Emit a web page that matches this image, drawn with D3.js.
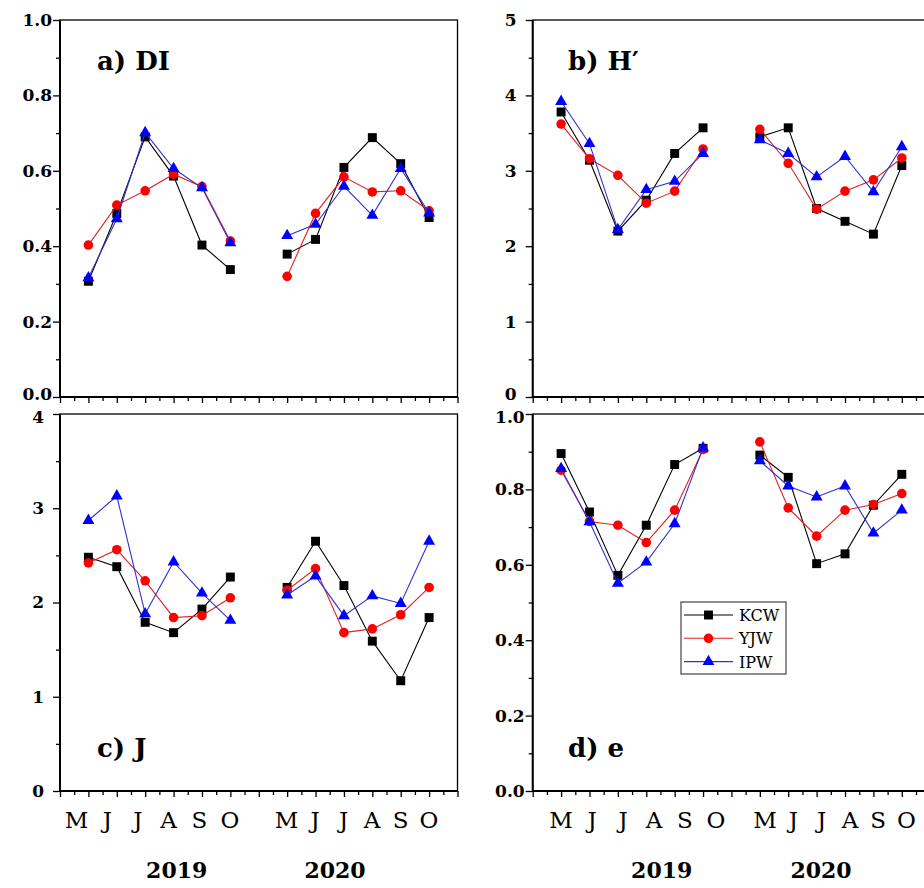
<!DOCTYPE html>
<meta charset="utf-8">
<style>
  body { margin: 0; background: #fff; }
  .axis line { stroke: #000; stroke-width: 1.3px; }
  .axis path { display: none; }
  .axis text { font-family: "DejaVu Serif", serif; font-weight: bold; font-size: 17px; fill: #000; }
</style>
<body>
<script src="https://d3js.org/d3.v7.min.js"></script>
<script>

var months = ["M", "J", "J", "A", "S", "O"];
var years = ["2019", "2020"];
var seriesNames = ["KCW", "YJW", "IPW"];

// values: May..Oct 2019 then May..Oct 2020
var diKCW = [0.307, 0.487, 0.690, 0.586, 0.403, 0.338, 0.379, 0.418, 0.609, 0.688, 0.619, 0.476];
var diYJW = [0.403, 0.509, 0.547, 0.591, 0.558, 0.414, 0.320, 0.487, 0.584, 0.544, 0.547, 0.494];
var diIPW = [0.316, 0.473, 0.701, 0.606, 0.555, 0.409, 0.428, 0.458, 0.559, 0.482, 0.606, 0.488];

var hKCW = [3.78, 3.14, 2.20, 2.61, 3.23, 3.57, 3.45, 3.57, 2.50, 2.33, 2.16, 3.07];
var hYJW = [3.62, 3.16, 2.94, 2.57, 2.73, 3.29, 3.55, 3.10, 2.49, 2.73, 2.88, 3.17];
var hIPW = [3.92, 3.36, 2.22, 2.75, 2.86, 3.23, 3.41, 3.23, 2.92, 3.19, 2.72, 3.32];

var jKCW = [2.48, 2.38, 1.79, 1.68, 1.93, 2.27, 2.16, 2.65, 2.18, 1.59, 1.17, 1.84];
var jYJW = [2.42, 2.56, 2.23, 1.84, 1.86, 2.05, 2.13, 2.36, 1.68, 1.72, 1.87, 2.16];
var jIPW = [2.87, 3.13, 1.88, 2.43, 2.10, 1.81, 2.08, 2.28, 1.86, 2.07, 1.99, 2.65];

var eKCW = [0.895, 0.740, 0.572, 0.705, 0.866, 0.909, 0.891, 0.832, 0.603, 0.629, 0.758, 0.840];
var eYJW = [0.851, 0.715, 0.705, 0.659, 0.745, 0.906, 0.926, 0.751, 0.676, 0.745, 0.760, 0.789];
var eIPW = [0.855, 0.714, 0.551, 0.607, 0.709, 0.910, 0.876, 0.809, 0.780, 0.809, 0.684, 0.745];

var colors = {KCW: "#000000", YJW: "#ff0000", IPW: "#0000ff"};
var lineColors = {KCW: "#000000", YJW: "#e02020", IPW: "#3030d0"};
var symbols = {KCW: d3.symbolSquare, YJW: d3.symbolCircle, IPW: d3.symbolTriangle};
var symSize = {KCW: 80, YJW: 72, IPW: 62};

var pw = 397.5, ph = 377;

var panels = [
  {label: "a) DI", left: 60, top: 20, max: 1, major: 0.2, minor: 0.1, fmt: ".1f", pad: 1,
   series: {KCW: diKCW, YJW: diYJW, IPW: diIPW}, lx: 97, ly: 70, months: null, row: 0},
  {label: "b) H\u2032", left: 532.7, top: 20, max: 5, major: 1, minor: 0.5, fmt: "d", pad: 9,
   series: {KCW: hKCW, YJW: hYJW, IPW: hIPW}, lx: 568, ly: 70, months: null, row: 0},
  {label: "c) J", left: 60, top: 414, max: 4, major: 1, minor: 0.5, fmt: "d", pad: 9,
   series: {KCW: jKCW, YJW: jYJW, IPW: jIPW}, lx: 97, ly: 757, row: 1,
   months: [{c: 153.3, s: 30.7}, {c: 357.8, s: 28.5}], yearsX: [176.7, 335]},
  {label: "d) e", left: 532.7, top: 414, max: 1, major: 0.2, minor: 0.1, fmt: ".1f", pad: 1,
   series: {KCW: eKCW, YJW: eYJW, IPW: eIPW}, lx: 568, ly: 757, row: 1,
   months: [{c: 638.5, s: 31}, {c: 835.8, s: 28.3}], yearsX: [661.7, 821], legend: true}
];

var svg = d3.select("body").append("svg")
    .attr("width", 924)
    .attr("height", 888);

// slot on x axis for value i (gap of one slot between years)
function slot(i) { return Math.floor(i / 6) * 7 + (i % 6) + 1; }

panels.forEach(function (p) {
  var x = d3.scaleLinear().domain([0, 14]).range([0, pw]);
  var y = d3.scaleLinear().domain([0, p.max]).range([ph, 0]);

  var g = svg.append("g").attr("transform", "translate(" + p.left + "," + p.top + ")");

  var majors = d3.range(0, p.max + 1e-9, p.major);
  var minors = d3.range(0, p.max + 1e-9, p.minor).filter(function (v) {
    return Math.abs(v / p.major - Math.round(v / p.major)) > 1e-6;
  });

  var yAx = g.append("g").attr("class", "axis")
      .call(d3.axisLeft(y).tickValues(majors).tickSize(7).tickPadding(p.pad).tickFormat(d3.format(p.fmt)));
  // the two stacked panels sit close: nudge the touching labels apart a little
  yAx.selectAll(".tick text")
      .filter(function (d) { return p.row === 0 ? d === 0 : Math.abs(d - p.max) < 1e-9; })
      .attr("dy", p.row === 0 ? "0.12em" : "0.5em");
  g.append("g").attr("class", "axis")
      .call(d3.axisLeft(y).tickValues(minors).tickSize(4).tickFormat(""));

  g.append("g").attr("class", "axis")
      .attr("transform", "translate(0," + ph + ")")
      .call(d3.axisBottom(x).tickValues(d3.range(0, 15)).tickSize(6).tickFormat(""));
  g.append("g").attr("class", "axis")
      .attr("transform", "translate(0," + ph + ")")
      .call(d3.axisBottom(x).tickValues(d3.range(0.5, 14, 1)).tickSize(4).tickFormat(""));

  // frame
  g.append("rect")
      .attr("width", pw).attr("height", ph)
      .attr("fill", "none").attr("stroke", "#000").attr("stroke-width", 1.3);
  g.append("path")
      .attr("d", "M0,0V" + ph + "H" + pw)
      .attr("fill", "none").attr("stroke", "#000").attr("stroke-width", 2);

  var line = d3.line()
      .x(function (d) { return x(d.s); })
      .y(function (d) { return y(d.v); });

  seriesNames.forEach(function (name) {
    var pts = p.series[name].map(function (v, i) { return {s: slot(i), v: v, yr: Math.floor(i / 6)}; });
    years.forEach(function (yr, yi) {
      g.append("path")
          .datum(pts.filter(function (d) { return d.yr === yi; }))
          .attr("d", line)
          .attr("fill", "none")
          .attr("stroke", lineColors[name])
          .attr("stroke-width", 1.1);
    });
    g.selectAll(null).data(pts).enter().append("path")
        .attr("transform", function (d) { return "translate(" + x(d.s) + "," + y(d.v) + ")"; })
        .attr("d", d3.symbol().type(symbols[name]).size(symSize[name]))
        .attr("fill", colors[name]);
  });

  svg.append("text")
      .attr("x", p.lx).attr("y", p.ly)
      .attr("font-family", "DejaVu Serif, serif")
      .attr("font-weight", "bold")
      .attr("font-size", 26)
      .text(p.label);

  if (p.months) {
    p.months.forEach(function (m, yi) {
      svg.selectAll(null).data(months).enter().append("text")
          .attr("x", function (d, i) { return m.c + (i - 2.5) * m.s; })
          .attr("y", 828)
          .attr("text-anchor", "middle")
          .attr("font-family", "DejaVu Serif, serif")
          .attr("font-size", 23)
          .text(function (d) { return d; });
      svg.append("text")
          .attr("x", p.yearsX[yi]).attr("y", 878)
          .attr("text-anchor", "middle")
          .attr("font-family", "DejaVu Serif, serif")
          .attr("font-weight", "bold")
          .attr("font-size", 22)
          .text(years[yi]);
    });
  }

  if (p.legend) {
    var lg = svg.append("g").attr("transform", "translate(681,602)");
    lg.append("rect")
        .attr("width", 105).attr("height", 72)
        .attr("fill", "#fff").attr("stroke", "#444").attr("stroke-width", 1.2);
    seriesNames.forEach(function (name, i) {
      var yy = 13 + i * 23.3;
      lg.append("line")
          .attr("x1", 3).attr("x2", 52).attr("y1", yy).attr("y2", yy)
          .attr("stroke", lineColors[name]).attr("stroke-width", 1.1);
      lg.append("path")
          .attr("transform", "translate(27.5," + yy + ")")
          .attr("d", d3.symbol().type(symbols[name]).size(symSize[name]))
          .attr("fill", colors[name]);
      lg.append("text")
          .attr("x", 58).attr("y", yy + 6)
          .attr("font-family", "DejaVu Serif, serif")
          .attr("font-size", 16)
          .text(name);
    });
  }
});

</script>
</body>
